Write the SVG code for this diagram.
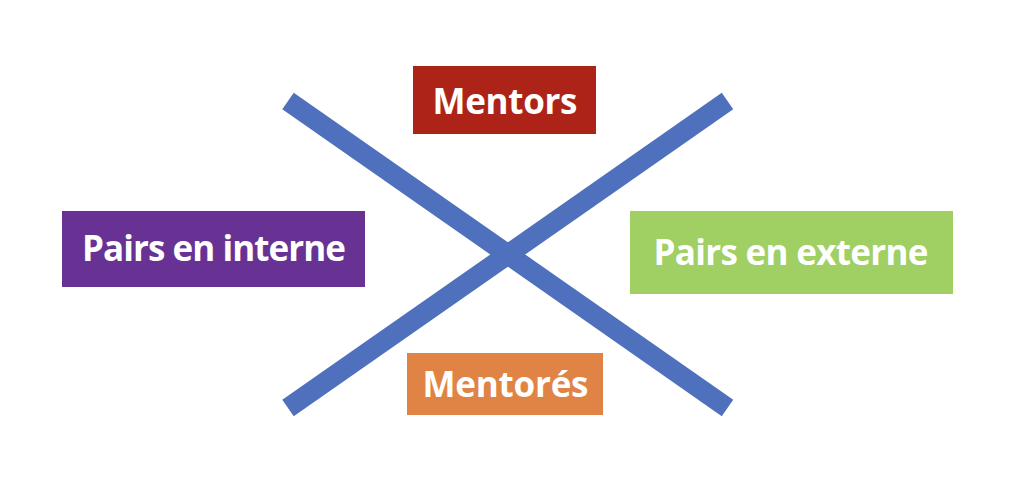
<svg xmlns="http://www.w3.org/2000/svg" width="1024" height="478" viewBox="0 0 1024 478">
<style>
.lbl{font-family:"Open Sans","Noto Sans","Liberation Sans",sans-serif;font-weight:bold;font-size:35px;fill:#FFFFFF;text-anchor:middle}
.bar{stroke:#4F70BC;stroke-width:20;stroke-linecap:butt}
</style>
<rect width="1024" height="478" fill="#FFFFFF"/>
<g id="connectors">
<line class="bar" x1="288" y1="101" x2="727.5" y2="408"/>
<line class="bar" x1="727.5" y1="101" x2="288" y2="408"/>
</g>
<g id="mentors">
<rect x="413" y="66" width="183" height="68" fill="#AE2318"/>
<text class="lbl" x="505" y="114" textLength="145">Mentors</text>
</g>
<g id="pairs-interne">
<rect x="62" y="211" width="303" height="76" fill="#673293"/>
<text class="lbl" x="214" y="261" textLength="264">Pairs en interne</text>
</g>
<g id="pairs-externe">
<rect x="630" y="211" width="323" height="83" fill="#A0CF64"/>
<text class="lbl" x="791" y="265" textLength="275">Pairs en externe</text>
</g>
<g id="mentores">
<rect x="407" y="353" width="196" height="62" fill="#E08445"/>
<text class="lbl" x="505.5" y="397" textLength="166">Mentorés</text>
</g>
</svg>
